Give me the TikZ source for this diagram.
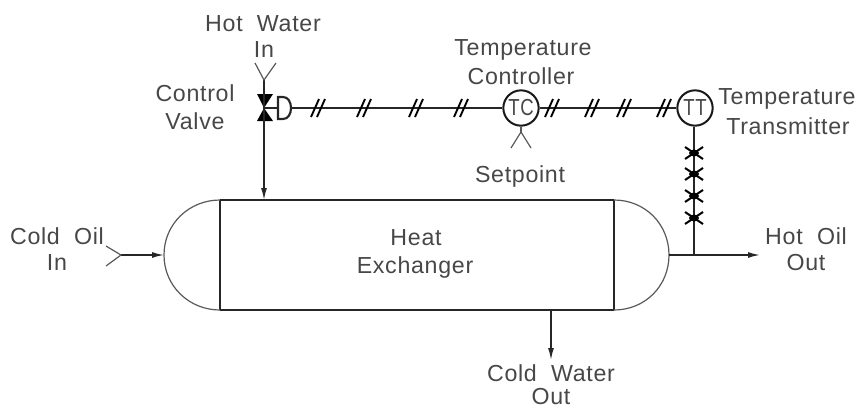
\documentclass[tikz,border=0pt]{standalone}
\usepackage{fontspec}
\setmainfont[LetterSpace=3]{Liberation Sans}
\usetikzlibrary{arrows.meta}
\tikzset{
  every picture/.style={x=0.75pt,y=-0.75pt},
  line/.style={draw=black!85,line width=1.15pt},
  thinline/.style={draw=black!65,line width=0.9pt},
  flow/.style={line,-{Latex[length=9pt,width=4.5pt]}},
  lbl/.style={inner sep=0pt,text=black!72,font=\fontsize{17.4pt}{20pt}\selectfont,anchor=center},
  instr/.style={circle,draw=black!90,line width=1.5pt,minimum size=26.5pt,inner sep=0pt,text=black!72,font=\fontsize{17.4pt}{20pt}\selectfont},
  hashmark/.style={draw=black,line width=1.4pt},
  xmark/.style={draw=black,line width=1.5pt}
}
\newcommand{\hashat}[1]{%
  \draw[hashmark] ([shift={(-7,9)}]#1) -- ([shift={(1,-9)}]#1);
  \draw[hashmark] ([shift={(-1,9)}]#1) -- ([shift={(7,-9)}]#1);
}
\newcommand{\xat}[1]{%
  \draw[xmark] ([shift={(-9,-6)}]#1) -- ([shift={(9,6)}]#1);
  \draw[xmark] ([shift={(-9,6)}]#1) -- ([shift={(9,-6)}]#1);
  \fill[black] (#1) ellipse [x radius=5, y radius=3.5];
}
\begin{document}
\begin{tikzpicture}
\useasboundingbox (0,0) rectangle (860,408);
% coordinates
\coordinate (bodyTL) at (220,200);
\coordinate (bodyTR) at (614,200);
\coordinate (bodyBL) at (220,310);
\coordinate (bodyBR) at (614,310);
\coordinate (leftEnd) at (164,255);
\coordinate (rightEnd) at (669,255);
% vessel
\draw[line] (bodyTL) -- (bodyTR) (bodyBL) -- (bodyBR) (bodyTL) -- (bodyBL) (bodyTR) -- (bodyBR);
\draw[thinline] (bodyTL) .. controls (189,200) and (164,224) .. (leftEnd) .. controls (164,286) and (189,310) .. (bodyBL);
\draw[thinline] (bodyTR) .. controls (645,200) and (669,224) .. (rightEnd) .. controls (669,286) and (645,310) .. (bodyBR);
% instruments
\node[instr] (TC) at (521,108) {\scalebox{0.8}[1]{TC}};
\node[instr] (TT) at (695,108) {\scalebox{0.8}[1]{TT}};
% valve
\coordinate (valve) at (264,108);
\coordinate (hwTail) at (264,80);
\coordinate (hwEnd) at (264,200);
\fill[black] (257,94) -- (273,94) -- (valve) -- cycle;
\fill[black] (257,121) -- (273,121) -- (valve) -- cycle;
\draw[line] (hwTail) -- (valve);
\draw[flow] (valve) -- (hwEnd);
\draw[thinline] (255,63) -- (hwTail) -- (276,63);
% actuator
\coordinate (actL) at (278,108);
\coordinate (actR) at (291,108);
\draw[line,line width=1.5pt] (valve) -- (actL);
\draw[line,line width=1.6pt] (278,97) -- (283,97) .. controls (288,97) and (291,102) .. (actR) .. controls (291,114) and (288,119) .. (283,119) -- (278,119) -- cycle;
% signals
\draw[line] (actR) -- (TC);
\draw[line] (TC) -- (TT);
\foreach \x in {318,364,416,461,552,592,624,664} {\coordinate (h) at (\x,108); \hashat{h}}
% setpoint
\coordinate (spStem) at (521,132);
\draw[thinline] (TC) -- (spStem);
\draw[thinline] (511,148) -- (spStem) -- (531,148);
% hot oil
\coordinate (hotOut) at (760,255);
\coordinate (ttJoin) at (694,255);
\draw[line] (TT.south -| ttJoin) -- (ttJoin);
\draw[flow] (rightEnd) -- (hotOut);
\foreach \y in {153,174,196,218} {\coordinate (h) at (694,\y); \xat{h}}
% cold oil
\coordinate (coTail) at (121,255);
\draw[flow] (coTail) -- (leftEnd);
\draw[thinline] (106,246) -- (coTail) -- (106,266);
% cold water
\coordinate (cwStart) at (551,310);
\coordinate (cwEnd) at (551,360);
\draw[flow] (cwStart) -- (cwEnd);
% labels
\node[lbl] (l1) at (263,24) {Hot\ \ Water};
\node[lbl] (l2) at (264,50) {In};
\node[lbl] (l3) at (195,93) {Control};
\node[lbl] (l4) at (195,121) {Valve};
\node[lbl] (l5) at (523,50) {Temperature};
\node[lbl] (l6) at (521,76) {Controller};
\node[lbl] (l7) at (520,176) {Setpoint};
\node[lbl] (l8) at (787,99) {Temperature};
\node[lbl] (l9) at (788,126) {Transmitter};
\node[lbl] (l10) at (57,236) {Cold\ \ Oil};
\node[lbl] (l11) at (57,263) {In};
\node[lbl] (l12) at (416,238) {Heat};
\node[lbl] (l13) at (415,267) {Exchanger};
\node[lbl] (l14) at (806,236) {Hot\ \ Oil};
\node[lbl] (l15) at (806,263) {Out};
\node[lbl] (l16) at (551,373) {Cold\ \ Water};
\node[lbl] (l17) at (551,397) {Out};
\end{tikzpicture}
\end{document}
